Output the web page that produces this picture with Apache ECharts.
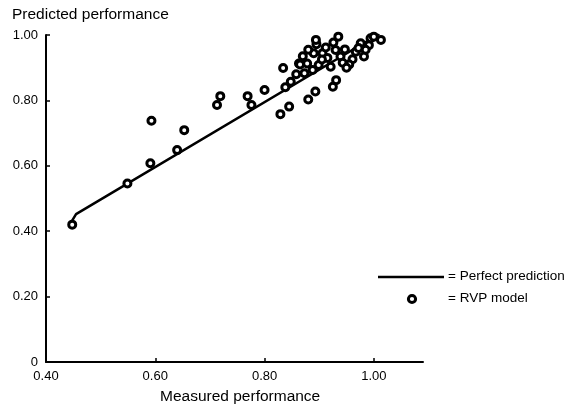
<!DOCTYPE html>
<html>
<head>
<meta charset="utf-8">
<script src="https://cdn.jsdelivr.net/npm/echarts@6/dist/echarts.min.js"></script>
<style>
html,body{margin:0;padding:0;background:#fff;}
#chart{width:572px;height:409px;}
</style>
</head>
<body>
<div id="chart"></div>
<script>
// Measured vs predicted (RVP model) points
const measured = [0.448, 0.549, 0.591, 0.593, 0.640, 0.653, 0.713, 0.719, 0.769, 0.776,
  0.800, 0.829, 0.845, 0.834, 0.838, 0.848, 0.863, 0.865, 0.878, 0.873,
  0.888, 0.899, 0.906, 0.895, 0.890, 0.926, 0.930, 0.921, 0.939, 0.943,
  0.947, 0.961, 0.967, 0.976, 0.982, 0.991, 0.994, 1.010, 1.013, 0.925,
  0.931, 0.880, 0.893, 0.870, 0.880, 0.955, 0.985, 0.915, 0.858, 0.905,
  0.950, 0.972, 0.894, 0.935, 0.912, 1.000];
const predicted = [0.420, 0.546, 0.608, 0.738, 0.648, 0.709, 0.786, 0.813, 0.813, 0.786,
  0.832, 0.758, 0.781, 0.899, 0.840, 0.857, 0.913, 0.910, 0.913, 0.883,
  0.893, 0.908, 0.944, 0.972, 0.944, 0.977, 0.954, 0.903, 0.934, 0.915,
  0.956, 0.926, 0.949, 0.975, 0.934, 0.969, 0.990, 1.003, 0.985, 0.842,
  0.862, 0.803, 0.827, 0.935, 0.955, 0.910, 0.955, 0.930, 0.880, 0.925,
  0.900, 0.960, 0.985, 0.995, 0.962, 0.995];
// Perfect prediction line
const lineX = [0.447, 0.455, 1.010];
const lineY = [0.430, 0.452, 1.003];
// Tick labels
const xTicks = [0.4, 0.6, 0.8, 1.0];
const yTicks = [0, 0.2, 0.4, 0.6, 0.8, 1.0];
const xTitle = 'Measured performance';
const yTitle = 'Predicted performance';
const lineLegend = '= Perfect prediction';
const pointLegend = '= RVP model';

const FONT = "'Liberation Sans', Arial, Helvetica, sans-serif";
const INK = '#000';

const chart = echarts.init(document.getElementById('chart'));
chart.setOption({
  backgroundColor: '#fff',
  animation: false,
  grid: {left: 46, right: 149, top: 35, bottom: 47},
  xAxis: {
    type: 'value', min: 0.4, max: 1.09, interval: 0.2,
    splitLine: {show: false},
    axisLine: {show: true, lineStyle: {color: INK, width: 2}},
    axisTick: {show: true, inside: true, length: 4, lineStyle: {color: INK, width: 1.5}, customValues: xTicks},
    axisLabel: {color: INK, fontFamily: FONT, fontSize: 13, margin: 8, customValues: xTicks,
      formatter: v => v.toFixed(2)}
  },
  yAxis: {
    type: 'value', min: 0, max: 1.0, interval: 0.2,
    splitLine: {show: false},
    axisLine: {show: true, lineStyle: {color: INK, width: 2}},
    axisTick: {show: true, inside: true, length: 4, lineStyle: {color: INK, width: 1.5}, customValues: yTicks},
    axisLabel: {color: INK, fontFamily: FONT, fontSize: 13, margin: 8, customValues: yTicks,
      formatter: v => v === 0 ? '0' : v.toFixed(2)}
  },
  graphic: [
    {type: 'text', left: 12, top: 7, style: {text: yTitle, font: '15.5px ' + FONT, fill: INK}},
    {type: 'text', left: 160, top: 389, style: {text: xTitle, font: '15.5px ' + FONT, fill: INK}},
    {type: 'line', shape: {x1: 378, y1: 277, x2: 444, y2: 277}, style: {stroke: INK, lineWidth: 2.5}},
    {type: 'circle', shape: {cx: 412, cy: 299, r: 3.6}, style: {fill: '#fff', stroke: INK, lineWidth: 3}},
    {type: 'text', left: 448, top: 269, style: {text: lineLegend, font: '13.5px ' + FONT, fill: INK}},
    {type: 'text', left: 448, top: 291, style: {text: pointLegend, font: '13.5px ' + FONT, fill: INK}}
  ],
  series: [
    {
      type: 'line', showSymbol: false, symbol: 'none',
      lineStyle: {color: INK, width: 2.5},
      data: lineX.map((x, i) => [x, lineY[i]]), z: 2
    },
    {
      type: 'scatter', symbol: 'circle', symbolSize: 7,
      itemStyle: {color: '#fff', borderColor: INK, borderWidth: 3, opacity: 1},
      data: measured.map((x, i) => [x, predicted[i]]), z: 3
    }
  ]
});
</script>
</body>
</html>
